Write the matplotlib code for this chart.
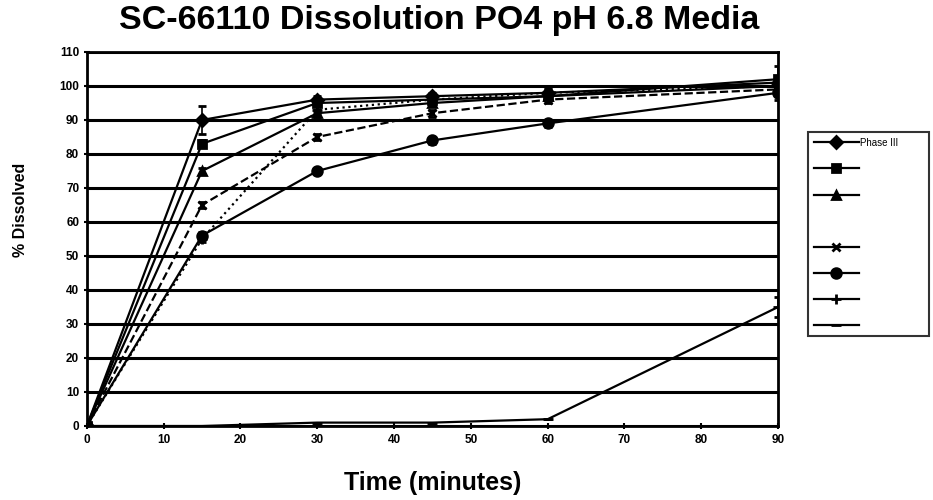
import matplotlib.pyplot as plt
from matplotlib.lines import Line2D

plt.rcParams['font.family'] = ['Liberation Sans', 'DejaVu Sans']
plt.rcParams['font.weight'] = 'bold'

# time points (minutes)
t = [0, 15, 30, 45, 60, 90]

# % dissolved per lot
diamond = [0, 90, 96, 97, 98, 101]
square = [0, 83, 95, 96, 97, 102]
triangle = [0, 75, 92, 95, 97, 100]
star = [0, 65, 85, 92, 96, 99]
circle = [0, 56, 75, 84, 89, 98]
plus = [0, 55, 93, 96, 98, 100]
low = [0, 0, 1, 1, 2, 35]

# standard deviations (rough)
diamond_sd = [0, 4, 1, 1, 1, 2]
square_sd = [0, 1, 1, 1, 1, 4]
triangle_sd = [0, 1, 1, 1, 1, 2]
star_sd = [0, 1, 1, 1, 1, 2]
circle_sd = [0, 1, 1, 1, 1, 2]
plus_sd = [0, 1, 1, 1, 1, 2]
low_sd = [0, 0, 0, 0, 0, 3]

series = [
    (diamond, diamond_sd, 'D', '-', 6),
    (square, square_sd, 's', '-', 6),
    (triangle, triangle_sd, '^', '-', 6),
    (star, star_sd, 'x', '--', 6),
    (circle, circle_sd, 'o', '-', 7),
    (plus, plus_sd, '+', ':', 7),
    (low, low_sd, '_', '-', 7),
]

fig = plt.figure(figsize=(9.33, 5.0), dpi=100)
ax = fig.add_axes([0.093, 0.148, 0.741, 0.748])

for y in range(0, 111, 10):
    ax.axhline(y, color='black', lw=2.2, zorder=1)

handles = []
for vals, sd, mk, ls, ms in series:
    ax.errorbar(t, vals, yerr=sd, color='black', lw=1.6, ls=ls, marker=mk,
                markersize=ms, mew=2, capsize=3, elinewidth=1.2, zorder=3)
    handles.append(Line2D([], [], color='black', lw=1.6, marker=mk,
                          markersize=ms, mew=2))

ax.set_xlim(0, 90)
ax.set_ylim(0, 110)
ax.set_xticks(range(0, 91, 10))
ax.set_yticks(range(0, 111, 10))
ax.tick_params(labelsize=8.5, width=1.5, length=4, direction='inout')
for s in ax.spines.values():
    s.set_linewidth(2)

ax.set_xlabel('Time (minutes)', fontsize=18, fontweight='bold')
ax.xaxis.set_label_coords(0.5, -0.12)
ax.set_ylabel('% Dissolved', fontsize=11.5, fontweight='bold')
ax.yaxis.set_label_coords(-0.085, 0.578)
fig.suptitle('SC-66110 Dissolution PO4 pH 6.8 Media', fontsize=24.5,
             fontweight='bold', x=0.471, y=0.99)

# legend with an empty row between triangle and star
blank = Line2D([], [], linestyle='none')
leg_handles = handles[:3] + [blank] + handles[3:]
leg_labels = ['Phase III' + ' ' * 9, '', '', '', '', '', '', '']
leg = fig.legend(leg_handles, leg_labels, loc='upper left',
                 bbox_to_anchor=(0.866, 0.736),
                 prop={'weight': 'normal', 'size': 7},
                 frameon=True, fancybox=False, edgecolor='black',
                 handlelength=4.6, handletextpad=0.2,
                 labelspacing=1.65, borderpad=0.6, borderaxespad=0)
leg.get_frame().set_linewidth(1.5)

fig.savefig('out.png', dpi=100)
